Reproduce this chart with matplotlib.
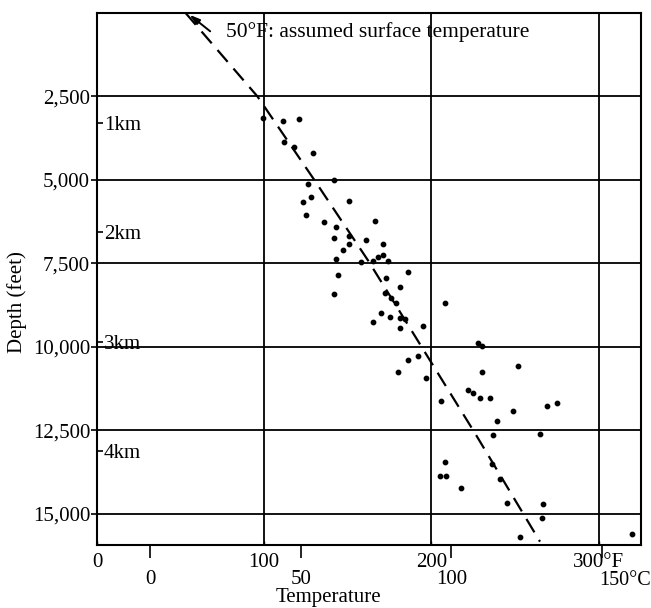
import matplotlib
matplotlib.use('Agg')
import matplotlib.pyplot as plt
import numpy as np

plt.rcParams['font.family'] = ['Liberation Serif', 'DejaVu Serif']

# Data: borehole temperatures (deg F) against depth (feet)
temp_f = [99, 111, 121, 112, 118, 129, 142, 126, 128, 123, 151, 125, 136, 143, 166,
          142, 151, 161, 151, 171, 147, 171, 143, 168, 174, 165, 158, 144, 173, 186,
          181, 172, 142, 176, 179, 170, 175, 181, 184, 165, 181, 195, 208, 228, 230,
          186, 192, 180, 197, 230, 206, 222, 225, 229, 235, 252, 249, 269, 275, 239,
          237, 265, 208, 205, 209, 218, 241, 245, 267, 266, 253, 320, 236]
depth_ft = [3130, 3220, 3160, 3850, 4010, 4180, 5000, 5130, 5520, 5660, 5630, 6040, 6270, 6400, 6240,
            6730, 6680, 6800, 6930, 6930, 7100, 7250, 7360, 7320, 7420, 7420, 7450, 7850, 7940, 7760,
            8190, 8370, 8420, 8540, 8690, 8970, 9090, 9120, 9170, 9250, 9420, 9370, 8670, 9890, 9960,
            10390, 10270, 10760, 10920, 10750, 11630, 11280, 11390, 11540, 11540, 10570, 11920, 11780, 11670, 12210,
            12630, 12610, 13440, 13850, 13850, 14230, 13940, 14680, 14700, 15130, 15700, 15600, 13500]

# trend line (dashed)
trend_f = [53, 96, 130, 162, 191, 226, 265]
trend_ft = [0, 2500, 5000, 7400, 9740, 12575, 15830]

f_ticks = [0, 100, 200, 300]
f_labels = ['0', '100', '200', '300°F']
c_ticks = [0, 50, 100, 150]
c_labels = ['0', '50', '100', '']
depth_ticks = [2500, 5000, 7500, 10000, 12500, 15000]
depth_labels = ['2,500', '5,000', '7,500', '10,000', '12,500', '15,000']
km_ticks = [1, 2, 3, 4]
km_labels = ['1km', '2km', '3km', '4km']


def f2c(f):
    return (f - 32) * 5 / 9


def c2f(c):
    return c * 9 / 5 + 32


FS = 15
fig = plt.figure(figsize=(6.51, 6.08), dpi=100)
ax = fig.add_axes([97 / 651, 1 - 545 / 608, 544 / 651, 532 / 608])

ax.scatter(temp_f, depth_ft, s=10, color='black', zorder=3)
ax.plot(trend_f, trend_ft, color='black', lw=1.6, dashes=(7, 4), zorder=3)

ax.set_xlim(0, 325.4)
ax.set_ylim(15930, 0)

ax.set_xticks(f_ticks)
ax.set_xticklabels(f_labels, fontsize=FS)
ax.tick_params(axis='x', length=3, width=1, pad=6, direction='in')
ax.set_yticks(depth_ticks)
ax.set_yticklabels(depth_labels, fontsize=FS)
ax.tick_params(axis='y', length=4, width=1.2, pad=1)

ax.grid(True, color='black', lw=1.3)
ax.set_axisbelow(True)
for sp in ax.spines.values():
    sp.set_linewidth(1.5)

# Celsius scale below
sec = ax.secondary_xaxis('bottom', functions=(f2c, c2f))
sec.set_xticks(c_ticks)
sec.set_xticklabels(c_labels, fontsize=FS)
sec.tick_params(length=9, width=1.2, pad=9)
sec.spines['bottom'].set_visible(False)
ax.annotate('150°C', xy=(c2f(c_ticks[-1]), 0), xycoords=('data', 'axes fraction'),
            xytext=(-2, -18.5), textcoords='offset points', fontsize=14.5,
            ha='left', va='top', annotation_clip=False)

# km scale on the inside of the depth axis
kax = ax.secondary_yaxis('left', functions=(lambda ft: ft / 3280.84,
                                            lambda km: km * 3280.84))
kax.set_yticks(km_ticks)
kax.set_yticklabels(km_labels, fontsize=FS)
kax.tick_params(direction='in', length=4, width=1.2, pad=-5)
kax.spines['left'].set_visible(False)
for lab in kax.get_yticklabels():
    lab.set_horizontalalignment('left')

ax.annotate('', xy=(54, 0), xytext=(69, 600), annotation_clip=False,
            arrowprops=dict(arrowstyle='-|>,head_length=0.6,head_width=0.18',
                            color='black', lw=1.4))
ax.text(77, 570, '50°F: assumed surface temperature', fontsize=15.5,
        ha='left', va='center')

ax.text(-0.147, 0.457, 'Depth (feet)', transform=ax.transAxes, fontsize=FS,
        rotation=90, ha='center', va='center')
ax.text(0.425, -0.098, 'Temperature', transform=ax.transAxes, fontsize=FS,
        ha='center', va='center')

fig.savefig('out.png', dpi=100)
